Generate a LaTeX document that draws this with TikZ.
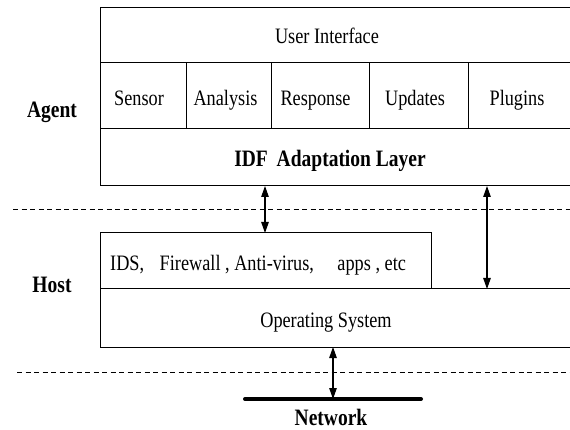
\documentclass[tikz,border=0pt]{standalone}
\usepackage{fontspec}
\setmainfont[FakeStretch=0.83]{Liberation Serif}
\usetikzlibrary{arrows.meta}
\begin{document}
\begin{tikzpicture}[x=1pt,y=-1pt,
  cell/.style={draw=black, line width=1pt, inner sep=0pt, outer sep=0pt, minimum height=#1},
  txt/.style={anchor=base, inner sep=0pt, font=\fontsize{22}{24}\selectfont},
  btxt/.style={txt, font=\fontsize{23.5}{26}\selectfont\bfseries},
  biarrow/.style={line width=1.2pt, {Triangle[length=11pt,width=7.5pt]}-{Triangle[length=11pt,width=7.5pt]}},
  sep/.style={line width=1pt, dash pattern=on 5pt off 3.5pt},
  netline/.style={line width=4pt, line cap=round}]
\useasboundingbox (0,0) rectangle (570,430);
\clip (0,0) rectangle (570,430);

% Agent boxes
\node[cell=55pt, minimum width=472pt] (ui) at (336,35.5) {};
\node[cell=66pt, minimum width=86pt] (sensor) at (143,96) {};
\node[cell=66pt, minimum width=85pt] (analysis) at (228.5,96) {};
\node[cell=66pt, minimum width=98pt] (response) at (320,96) {};
\node[cell=66pt, minimum width=99pt] (updates) at (418.5,96) {};
\node[cell=66pt, minimum width=104pt] (plugins) at (520,96) {};
\node[cell=57pt, minimum width=472pt] (idf) at (336,157.5) {};

% Host boxes
\node[cell=56pt, minimum width=331pt] (apps) at (265.5,261) {};
\node[cell=58pt, minimum width=472pt] (os) at (336,318) {};

% Texts
\node[txt] (tui) at (327,44) {User Interface};
\node[txt] (tsensor) at (139,106) {Sensor};
\node[txt] (tanalysis) at (225.5,106) {Analysis};
\node[txt] (tresponse) at (315.5,106) {Response};
\node[txt] (tupdates) at (415,106) {Updates};
\node[txt] (tplugins) at (517,106) {Plugins};
\node[btxt] (tidf) at (330,167) {IDF\hspace{4pt} Adaptation Layer};
\node[txt, anchor=base west] (tapps) at (110,271) {IDS,\hspace{11pt} Firewall , Anti-virus,\hspace{19pt} apps , etc};
\node[txt] (tos) at (326,327) {Operating System};
\node[btxt] (tagent) at (52,118) {Agent};
\node[btxt] (thost) at (52,293) {Host};
\node[btxt] (tnet) at (331,425) {Network};

% Separators
\coordinate (d1a) at (13,210);
\coordinate (d1b) at (572,210);
\coordinate (d2a) at (17,372);
\coordinate (d2b) at (572,372);
\draw[sep] (d1a) -- (d1b);
\draw[sep] (d2a) -- (d2b);

% Network
\coordinate (netL) at (245,399);
\coordinate (netR) at (421,399);
\coordinate (netC) at (333,399);
\draw[netline] (netL) -- (netR);

% Arrows
\coordinate (a1) at (265,0);
\coordinate (a2) at (487,0);
\coordinate (a3) at (333,0);
\draw[biarrow] (idf.south -| a1) -- (apps.north -| a1);
\draw[biarrow] (idf.south -| a2) -- (os.north -| a2);
\draw[biarrow] (os.south -| a3) -- (netC);
\end{tikzpicture}
\end{document}
